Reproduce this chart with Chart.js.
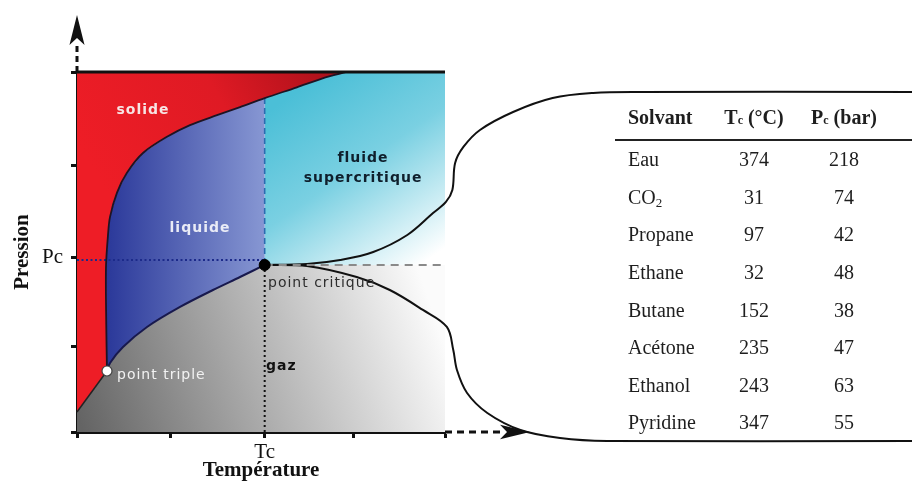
<!DOCTYPE html>
<html lang="fr">
<head>
<meta charset="utf-8">
<title>Diagramme de phase</title>
<script src="https://cdn.jsdelivr.net/npm/chart.js@4.4.1/dist/chart.umd.min.js"></script>
<style>
  body { margin: 0; background: #fff; }
  #wrap { position: relative; width: 912px; height: 487px; }
  #tab {
    position: absolute; left: 615px; top: 92px; width: 297px;
    border-collapse: collapse; table-layout: fixed;
    font-family: "Liberation Serif", "Times New Roman", serif;
    font-size: 20px; color: #1e1e1e;
  }
  #tab td { padding: 0; vertical-align: middle; white-space: nowrap; }
  #tab tr.head td { height: 44px; border-bottom: 2px solid #222; font-weight: bold; padding-top: 3px; }
  #tab tr.row td { height: 37.6px; }
  #tab td.nom { padding-left: 13px; }
  #tab td.num { text-align: center; }
  #tab .ind { font-size: 12px; }
  #tab sub { font-size: 13px; vertical-align: -3px; line-height: 0; }
</style>
</head>
<body>
<div id="wrap">
  <canvas id="diag" width="912" height="487"></canvas>
  <table id="tab"></table>
</div>
<script>
// tableau des solvants
const solvants = ["Eau", "CO2", "Propane", "Ethane", "Butane", "Acétone", "Ethanol", "Pyridine"];
const tcValues = [374, 31, 97, 32, 152, 235, 243, 347];
const pcValues = [218, 74, 42, 48, 38, 47, 63, 55];

// axes
const xTicks = [0, 1.02, 2.04, 3.01, 4];
const xTickLabels = ["", "", "Tc", "", ""];
const yTicks = [0, 0.95, 1.94, 2.96, 4];
const yTickLabels = ["", "", "Pc", "", ""];

// points remarquables
const triple = [0.326, 0.678];
const critique = [2.04, 1.856];
const pcLevel = 1.91;

// courbes (unites du diagramme)
const sublimation = [[0, 0.222], [0.326, 0.678]];
const fusion = [[0.326, 0.678], [0.318, 1.2], [0.315, 1.83], [0.337, 2.19], [0.359, 2.39], [0.435, 2.66],
  [0.543, 2.88], [0.717, 3.10], [0.978, 3.28], [1.228, 3.41], [1.522, 3.52], [1.772, 3.61],
  [2.04, 3.71], [2.39, 3.83], [2.67, 3.93], [2.93, 4.0]];
const vaporisation = [[0.326, 0.678], [0.359, 0.767], [0.5, 0.944], [0.761, 1.167], [1.12, 1.39],
  [1.478, 1.578], [1.772, 1.722], [2.04, 1.856]];
const accolade = [[9.076, 3.778], [6.12, 3.778], [5.61, 3.767], [5.17, 3.711], [4.74, 3.556], [4.38, 3.356],
  [4.2, 3.167], [4.11, 2.989], [4.08, 2.689], [4.01, 2.556], [3.87, 2.433], [3.59, 2.189], [3.22, 2.0],
  [2.86, 1.911], [2.5, 1.867], [2.04, 1.856], [2.5, 1.844], [3.04, 1.722], [3.4, 1.578], [3.76, 1.356],
  [4.02, 1.167], [4.09, 0.911], [4.13, 0.689], [4.24, 0.433], [4.46, 0.211], [4.82, 0.022],
  [5.25, -0.067], [5.76, -0.1], [9.076, -0.1]];

// fleches des axes
const flecheY = [[0, 4], [0, 4.33]];
const pointeY = [[0, 4.633], [0.082, 4.3], [0, 4.378], [-0.082, 4.3]];
const flecheX = [[4, 0], [4.6, 0]];
const pointeX = [[4.924, 0], [4.598, 0.08], [4.674, 0], [4.598, -0.08]];

// build table
const tab = document.getElementById("tab");
let html = '<colgroup><col style="width:103px"><col style="width:72px"><col style="width:108px"><col style="width:14px"></colgroup>';
html += '<tr class="head"><td class="nom">Solvant</td><td class="num">T<span class="ind">c</span> (°C)</td>' +
  '<td class="num">P<span class="ind">c</span> (bar)</td><td></td></tr>';
for (let i = 0; i < solvants.length; i++) {
  const nom = solvants[i].replace("2", "<sub>2</sub>");
  html += '<tr class="row"><td class="nom">' + nom + '</td><td class="num">' + tcValues[i] +
    '</td><td class="num">' + pcValues[i] + '</td><td></td></tr>';
}
tab.innerHTML = html;

const pts = (arr) => arr.map((p) => ({ x: p[0], y: p[1] }));

// polygones des phases
const iTc = fusion.findIndex((p) => p[0] >= critique[0]);
const gazPoly = [[0, 0], ...sublimation, ...vaporisation.slice(1), [4, critique[1]], [4, 0]];
const solidePoly = [...sublimation, ...fusion.slice(1), [0, 4]];
const liquidePoly = [...fusion.slice(0, iTc + 1), ...vaporisation.slice().reverse()];
const fluidePoly = [...fusion.slice(iTc), [4, 4], [4, critique[1]], critique];

function degrade(chart, from, to, stops, fallback) {
  const sx = chart.scales.x, sy = chart.scales.y;
  if (!chart.chartArea || !sx || !sy) return fallback;
  const g = chart.ctx.createLinearGradient(
    sx.getPixelForValue(from[0]), sy.getPixelForValue(from[1]),
    sx.getPixelForValue(to[0]), sy.getPixelForValue(to[1]));
  stops.forEach((s) => g.addColorStop(s[0], s[1]));
  return g;
}

function zone(poly, bg) {
  return { data: pts(poly), showLine: true, fill: "shape", backgroundColor: bg, borderWidth: 0,
    pointRadius: 0, tension: 0, clip: false, order: 20 };
}
function trait(arr, color, width, dash, tension) {
  return { data: pts(arr), showLine: true, fill: false, borderColor: color, borderWidth: width,
    borderDash: dash || [], pointRadius: 0, tension: tension || 0, clip: false, order: 10 };
}

const datasets = [
  zone(gazPoly, (c) => degrade(c.chart, [0.1, -0.1], [3.9, 1.25],
    [[0, "#646464"], [0.5, "#b0b0b0"], [1, "#fbfbfb"]], "#aaa")),
  zone(solidePoly, (c) => degrade(c.chart, [0.36, 2.58], [2.86, 4.0],
    [[0, "#ee1d26"], [0.55, "#df1a24"], [1, "#a8101a"]], "#e41e26")),
  zone(liquidePoly, (c) => degrade(c.chart, [0.33, 2], [2.04, 2],
    [[0, "#2b399a"], [1, "#8797d3"]], "#4b5bb5")),
  zone(fluidePoly, (c) => degrade(c.chart, [2.42, 3.8], [3.73, 1.856],
    [[0, "#4bbfd7"], [0.45, "#7ad0e2"], [1, "#ffffff"]], "#8dd6e6")),

  trait([[0, 4], [4, 4]], "#111", 3),
  trait(sublimation, "#222", 1.5),
  trait(fusion, "#1e1424", 1.8, null, 0.3),
  trait(vaporisation, "#18194d", 2, null, 0.3),
  trait([[critique[0], fusion[iTc][1]], critique], "#2b6cb0", 1.6, [6, 4]),
  trait([[0, pcLevel], [critique[0], pcLevel]], "#1c2a8a", 2, [2, 2.5]),
  trait([critique, [critique[0], 0]], "#111", 2, [2, 3]),
  trait([critique, [4, critique[1]]], "#8a8a8a", 2, [8, 6]),
  trait(accolade, "#111", 2, null, 0.35),
  trait(flecheY, "#111", 3, [6, 4]),
  trait(flecheX, "#111", 3, [7, 5]),

  { data: pts([triple]), pointRadius: 5, pointBackgroundColor: "#fff", pointBorderColor: "#444",
    pointBorderWidth: 1.2, clip: false, order: 1 },
  { data: pts([critique]), pointRadius: 5.5, pointBackgroundColor: "#000", pointBorderColor: "#000",
    pointBorderWidth: 1, clip: false, order: 1 },
];

// pointes de fleches (hors de la zone du graphique, donc dessinees ici)
const pointes = {
  id: "pointes",
  afterDatasetsDraw(chart) {
    const { ctx, scales } = chart;
    ctx.save();
    ctx.fillStyle = "#111";
    [pointeY, pointeX].forEach((poly) => {
      ctx.beginPath();
      poly.forEach((p, i) => {
        const px = scales.x.getPixelForValue(p[0]), py = scales.y.getPixelForValue(p[1]);
        if (i === 0) ctx.moveTo(px, py); else ctx.lineTo(px, py);
      });
      ctx.closePath();
      ctx.fill();
    });
    ctx.restore();
  },
};

// etiquettes des phases
const etiquettes = {
  id: "etiquettes",
  afterDatasetsDraw(chart) {
    const { ctx, scales } = chart;
    const items = [
      { t: "solide", x: 0.717, y: 3.578, bold: true, color: "#f7e4e4", align: "center" },
      { t: "liquide", x: 1.337, y: 2.267, bold: true, color: "#e9ebf6", align: "center" },
      { t: "fluide", x: 3.109, y: 3.044, bold: true, color: "#0f1f2c", align: "center" },
      { t: "supercritique", x: 3.109, y: 2.822, bold: true, color: "#0f1f2c", align: "center" },
      { t: "point critique", x: 2.076, y: 1.656, bold: false, color: "#2d2d2d", align: "left" },
      { t: "point triple", x: 0.435, y: 0.633, bold: false, color: "#f2f2f2", align: "left" },
      { t: "gaz", x: 2.054, y: 0.733, bold: true, color: "#111", align: "left" },
    ];
    ctx.save();
    ctx.textBaseline = "middle";
    ctx.letterSpacing = "1px";
    items.forEach((it) => {
      ctx.font = (it.bold ? "bold " : "") + '14px "DejaVu Sans", sans-serif';
      ctx.fillStyle = it.color;
      ctx.textAlign = it.align;
      ctx.fillText(it.t, scales.x.getPixelForValue(it.x), scales.y.getPixelForValue(it.y));
    });
    ctx.restore();
  },
};

const serif = '"Liberation Serif", "Times New Roman", serif';
const gridOpts = { display: true, drawOnChartArea: false, drawTicks: true, tickLength: 6, tickWidth: 3, tickColor: "#111" };
const borderOpts = { display: true, color: "#111", width: 3 };

new Chart(document.getElementById("diag"), {
  type: "scatter",
  data: { datasets },
  options: {
    responsive: false,
    animation: false,
    events: [],
    layout: { padding: { left: 0, top: 72, right: 467, bottom: 0 }, autoPadding: false },
    plugins: { legend: { display: false }, tooltip: { enabled: false } },
    scales: {
      x: {
        type: "linear", min: 0, max: 4,
        afterFit: (s) => { s.height = 55; },
        afterBuildTicks: (s) => { s.ticks = xTicks.map((v) => ({ value: v })); },
        ticks: { callback: (v) => xTickLabels[xTicks.indexOf(v)], font: { family: serif, size: 21 },
          color: "#111", padding: 2, maxRotation: 0, autoSkip: false },
        grid: gridOpts, border: borderOpts,
        title: { display: true, text: "Température", color: "#111",
          font: { family: serif, size: 21, weight: "bold" }, padding: { top: 0, bottom: 4 } },
      },
      y: {
        type: "linear", min: 0, max: 4,
        afterFit: (s) => { s.width = 77; },
        afterBuildTicks: (s) => { s.ticks = yTicks.map((v) => ({ value: v })); },
        ticks: { callback: (v) => yTickLabels[yTicks.indexOf(v)], font: { family: serif, size: 21 },
          color: "#111", padding: 8, autoSkip: false },
        grid: gridOpts, border: borderOpts,
        title: { display: true, text: "Pression", color: "#111",
          font: { family: serif, size: 21, weight: "bold" }, padding: { top: 10, bottom: 0 } },
      },
    },
  },
  plugins: [pointes, etiquettes],
});
</script>
</body>
</html>
